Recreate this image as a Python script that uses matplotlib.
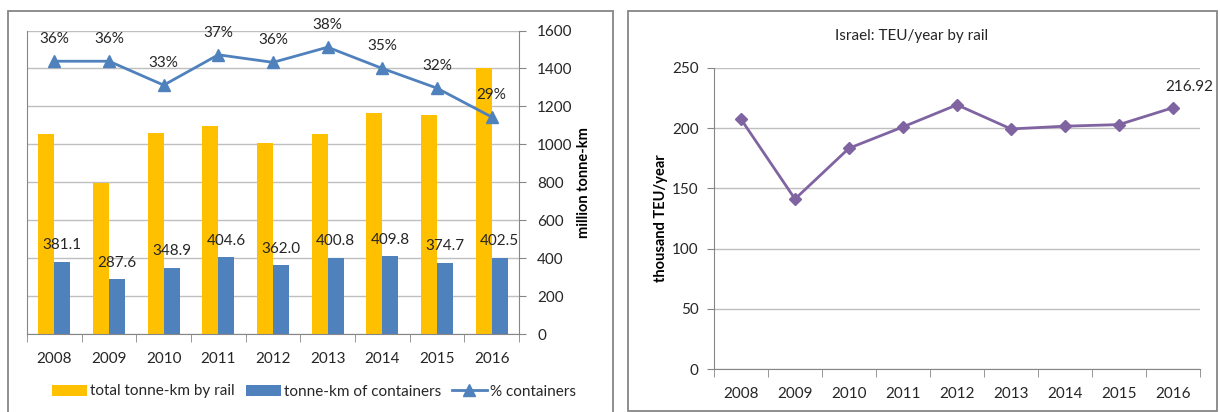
import matplotlib
matplotlib.use("Agg")
import matplotlib.pyplot as plt
from matplotlib.patches import Rectangle
import numpy as np

plt.rcParams['font.family'] = ['Lato', 'DejaVu Sans']
plt.rcParams['font.size'] = 11
plt.rcParams['text.color'] = '#262626'
plt.rcParams['xtick.color'] = '#868686'
plt.rcParams['ytick.color'] = '#868686'
plt.rcParams['xtick.labelcolor'] = '#262626'
plt.rcParams['ytick.labelcolor'] = '#262626'

# data
years = ['2008', '2009', '2010', '2011', '2012', '2013', '2014', '2015', '2016']
total_tkm = [1056, 798, 1061, 1096, 1009, 1056, 1165, 1153, 1404]
container_tkm = [381.1, 287.6, 348.9, 404.6, 362.0, 400.8, 409.8, 374.7, 402.5]
pct_containers = [0.3595, 0.3595, 0.328, 0.368, 0.358, 0.378, 0.350, 0.324, 0.286]
teu = [207.4, 141.2, 183.3, 201.0, 219.3, 199.3, 201.6, 202.9, 216.92]

orange = '#FFC000'
blue = '#4F81BD'
purple = '#8064A2'
axis_gray = '#868686'
grid_gray = '#BFBFBF'

W, H = 1220, 412
fig = plt.figure(figsize=(W / 100, H / 100), dpi=100)

def fx(px):
    return px / W

def fy(py):
    return 1 - py / H

# panel frames
fig.patches.append(Rectangle((fx(8), fy(425)), fx(613) - fx(8), fy(10.7) - fy(425),
                             transform=fig.transFigure, fill=False, ec=axis_gray, lw=1.3))
fig.patches.append(Rectangle((fx(628), fy(410.7)), fx(1217) - fx(628), fy(10.7) - fy(410.7),
                             transform=fig.transFigure, fill=False, ec=axis_gray, lw=1.3))

# ---------- left chart ----------
ax = fig.add_axes([fx(27), fy(334), fx(519) - fx(27), fy(30.5) - fy(334)])
ax2 = ax.twinx()
x = np.arange(len(years))
bw = 0.29
b1 = ax.bar(x - bw / 2, total_tkm, bw, color=orange, label='total tonne-km by rail', zorder=2)
b2 = ax.bar(x + bw / 2, container_tkm, bw, color=blue, label='tonne-km of containers', zorder=2)
for xi, v in zip(x, container_tkm):
    ax.annotate(f'{v:.1f}', (xi + bw / 2, v), xytext=(0, 12), textcoords='offset points',
                ha='center', va='center')

ax.set_xlim(-0.5, len(years) - 0.5)
ax.set_ylim(0, 1600)
ax.set_yticks(range(0, 1601, 200))
ax.yaxis.tick_right()
ax.yaxis.set_label_position('right')
ax.set_ylabel('million tonne-km', fontweight='bold', fontsize=10.5, labelpad=3)
ax.tick_params(axis='y', length=5, pad=8)
ax.set_xticks(x)
ax.set_xticklabels(years)
ax.set_xticks(np.arange(-0.5, len(years)), minor=True)
ax.tick_params(axis='x', which='major', length=0, pad=13)
ax.tick_params(axis='x', which='minor', length=6, color=axis_gray)
ax.grid(axis='y', color=grid_gray, lw=1.0, zorder=0)
ax.set_axisbelow(True)
for s in ['left', 'right', 'bottom']:
    ax.spines[s].set_color(axis_gray)
ax.spines['top'].set_visible(False)

ax2.set_ylim(0, 0.4)
ln, = ax2.plot(x, pct_containers, color=blue, lw=2, marker='^', ms=8,
               label='% containers', zorder=3)
for xi, p in zip(x, pct_containers):
    ax2.annotate(f'{p * 100:.0f}%', (xi, p), xytext=(0, 16), textcoords='offset points',
                 ha='center', va='center')
ax2.set_yticks([])
for s in ax2.spines.values():
    s.set_visible(False)

fig.legend(handles=[b1, b2, ln], loc='center', bbox_to_anchor=(fx(314), fy(391.5)),
           ncol=3, frameon=False, handlelength=2.3, handleheight=0.7,
           handletextpad=0.2, columnspacing=0.7)

# ---------- right chart ----------
axr = fig.add_axes([fx(714), fy(369.3), fx(1200) - fx(714), fy(67.8) - fy(369.3)])
axr.plot(x, teu, color=purple, lw=2, marker='D', ms=6)
axr.annotate(f'{teu[-1]:.2f}', (x[-1], teu[-1]), xytext=(12, 15), textcoords='offset points',
             ha='center', va='center')
axr.set_xlim(-0.5, len(years) - 0.5)
axr.set_ylim(0, 250)
axr.set_yticks(range(0, 251, 50))
axr.tick_params(axis='y', length=5, pad=6)
axr.set_xticks(x)
axr.set_xticklabels(years)
axr.set_xticks(np.arange(-0.5, len(years)), minor=True)
axr.tick_params(axis='x', which='major', length=0, pad=13)
axr.tick_params(axis='x', which='minor', length=6, color=axis_gray)
axr.grid(axis='y', color=grid_gray, lw=1.0)
axr.set_axisbelow(True)
axr.set_ylabel('thousand TEU/year', fontweight='bold', fontsize=10.5, labelpad=3)
axr.spines['left'].set_color(axis_gray)
axr.spines['bottom'].set_color(axis_gray)
axr.spines['top'].set_visible(False)
axr.spines['right'].set_visible(False)

fig.text(fx(912), fy(36), 'Israel: TEU/year by rail', ha='center', va='center')

fig.savefig('out.png', dpi=100)
